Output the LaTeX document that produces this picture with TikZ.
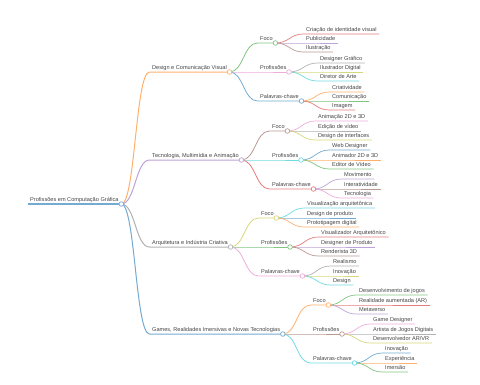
\documentclass[tikz,border=0pt]{standalone}
\usepackage{fontspec}
\setmainfont{Liberation Sans}
\usepackage{tikz}
\usetikzlibrary{positioning}
\definecolor{textMain}{HTML}{444444}
\definecolor{mBlue}{HTML}{74ABD2}
\definecolor{mOrange}{HTML}{FFB06C}
\definecolor{mGreen}{HTML}{80C580}
\definecolor{mRed}{HTML}{E67C7D}
\definecolor{mPurple}{HTML}{BDA3D7}
\definecolor{mBrown}{HTML}{BA9992}
\definecolor{mPink}{HTML}{EEACDA}
\definecolor{mGray}{HTML}{B2B2B2}
\definecolor{mOlive}{HTML}{D6D77A}
\definecolor{mCyan}{HTML}{72D8E2}

\begin{document}
\begin{tikzpicture}[x=1pt, y=-1pt,
    topic/.style={anchor=south west, inner xsep=2.5pt, inner ysep=0.7pt,
                  text height=4pt, text depth=1.2pt,
                  font=\fontsize{5.6}{6}\selectfont, text=textMain},
    link/.style={to path={.. controls +(14,0) and +(-14,0) .. (\tikztotarget)}},
    lvlOne/.style={line width=1pt},
    lvlTwo/.style={line width=0.8pt},
    leafline/.style={line width=0.7pt},
    knob/.style={fill=white, line width=0.7pt}]
  \useasboundingbox (0,0) rectangle (480,384);

  % root and main branches
  \node[topic] (root) at (27.5,204) {Profissões em Computação Gráfica};
  \node[topic] (design) at (149.5,72) {Design e Comunicação Visual};
  \node[topic] (tecno) at (149.5,160) {Tecnologia, Multimídia e Animação};
  \node[topic] (arq) at (149.5,247) {Arquitetura e Indústria Criativa};
  \node[topic] (games) at (149.5,334) {Games, Realidades Imersivas e Novas Tecnologias};

  \draw[mBlue, line width=1.2pt] (root.south west) -- (root.south east);
  \foreach \n/\k in {design/mOrange, tecno/mPurple, arq/mGray, games/mBlue}
    \draw[\k, lvlOne] (root.south east) to[link] (\n.south west) -- (\n.south east);

  % second level
  \node[topic] (dFoco) at (257.5,43) {Foco};
  \node[topic] (dProf) at (257.5,72) {Profissões};
  \node[topic] (dPal) at (257.5,101) {Palavras-chave};
  \node[topic] (tFoco) at (269.5,131) {Foco};
  \node[topic] (tProf) at (269.5,160) {Profissões};
  \node[topic] (tPal) at (269.5,189) {Palavras-chave};
  \node[topic] (aFoco) at (258.5,218) {Foco};
  \node[topic] (aProf) at (258.5,247) {Profissões};
  \node[topic] (aPal) at (258.5,276) {Palavras-chave};
  \node[topic] (gFoco) at (310.5,305) {Foco};
  \node[topic] (gProf) at (310.5,334) {Profissões};
  \node[topic] (gPal) at (310.5,363) {Palavras-chave};

  \foreach \p/\n/\k in {design/dFoco/mGreen, design/dProf/mPink, design/dPal/mBlue,
      tecno/tFoco/mBrown, tecno/tProf/mCyan, tecno/tPal/mRed,
      arq/aFoco/mOlive, arq/aProf/mGreen, arq/aPal/mPink,
      games/gFoco/mOrange, games/gProf/mBrown, games/gPal/mCyan}
    \draw[\k, lvlTwo] (\p.south east) to[link] (\n.south west) -- (\n.south east);

  % leaves
  \foreach \y/\k/\t [count=\i] in {34/mRed/Criação de identidade visual, 43/mPurple/Publicidade, 52/mBrown/Ilustração} {
    \node[topic] (dFoco\i) at (303.5,\y) {\t};
    \draw[\k, leafline] (dFoco.south east) to[link] (dFoco\i.south west) -- (dFoco\i.south east);
  }
  \foreach \y/\k/\t [count=\i] in {63/mGray/Designer Gráfico, 72/mOlive/Ilustrador Digital, 81/mCyan/Diretor de Arte} {
    \node[topic] (dProf\i) at (317.5,\y) {\t};
    \draw[\k, leafline] (dProf.south east) to[link] (dProf\i.south west) -- (dProf\i.south east);
  }
  \foreach \y/\k/\t [count=\i] in {92/mOrange/Criatividade, 101/mGreen/Comunicação, 110/mRed/Imagem} {
    \node[topic] (dPal\i) at (329.5,\y) {\t};
    \draw[\k, leafline] (dPal.south east) to[link] (dPal\i.south west) -- (dPal\i.south east);
  }
  \foreach \y/\k/\t [count=\i] in {121/mPink/Animação 2D e 3D, 131/mGray/Edição de vídeo, 140/mOlive/Design de interfaces} {
    \node[topic] (tFoco\i) at (315.5,\y) {\t};
    \draw[\k, leafline] (tFoco.south east) to[link] (tFoco\i.south west) -- (tFoco\i.south east);
  }
  \foreach \y/\k/\t [count=\i] in {150/mBlue/Web Designer, 160/mOrange/Animador 2D e 3D, 169/mGreen/Editor de Vídeo} {
    \node[topic] (tProf\i) at (329.5,\y) {\t};
    \draw[\k, leafline] (tProf.south east) to[link] (tProf\i.south west) -- (tProf\i.south east);
  }
  \foreach \y/\k/\t [count=\i] in {179/mPurple/Movimento, 189/mBrown/Interatividade, 198/mPink/Tecnologia} {
    \node[topic] (tPal\i) at (341.5,\y) {\t};
    \draw[\k, leafline] (tPal.south east) to[link] (tPal\i.south west) -- (tPal\i.south east);
  }
  \foreach \y/\k/\t [count=\i] in {208/mCyan/Visualização arquitetônica, 218/mBlue/Design de produto, 227/mOrange/Prototipagem digital} {
    \node[topic] (aFoco\i) at (304.5,\y) {\t};
    \draw[\k, leafline] (aFoco.south east) to[link] (aFoco\i.south west) -- (aFoco\i.south east);
  }
  \foreach \y/\k/\t [count=\i] in {237/mRed/Visualizador Arquitetônico, 247/mPurple/Designer de Produto, 256/mBrown/Renderista 3D} {
    \node[topic] (aProf\i) at (318.5,\y) {\t};
    \draw[\k, leafline] (aProf.south east) to[link] (aProf\i.south west) -- (aProf\i.south east);
  }
  \foreach \y/\k/\t [count=\i] in {266/mGray/Realismo, 276/mOlive/Inovação, 285/mCyan/Design} {
    \node[topic] (aPal\i) at (330.5,\y) {\t};
    \draw[\k, leafline] (aPal.south east) to[link] (aPal\i.south west) -- (aPal\i.south east);
  }
  \foreach \y/\k/\t [count=\i] in {295/mGreen/Desenvolvimento de jogos, 305/mRed/Realidade aumentada (AR), 314/mPurple/Metaverso} {
    \node[topic] (gFoco\i) at (356.5,\y) {\t};
    \draw[\k, leafline] (gFoco.south east) to[link] (gFoco\i.south west) -- (gFoco\i.south east);
  }
  \foreach \y/\k/\t [count=\i] in {324/mPink/Game Designer, 334/mGray/Artista de Jogos Digitais, 343/mOlive/{Desenvolvedor AR/VR}} {
    \node[topic] (gProf\i) at (370.5,\y) {\t};
    \draw[\k, leafline] (gProf.south east) to[link] (gProf\i.south west) -- (gProf\i.south east);
  }
  \foreach \y/\k/\t [count=\i] in {353/mBlue/Inovação, 363/mOrange/Experiência, 372/mGreen/Imersão} {
    \node[topic] (gPal\i) at (382.5,\y) {\t};
    \draw[\k, leafline] (gPal.south east) to[link] (gPal\i.south west) -- (gPal\i.south east);
  }

  % open circles at the end of each parent line
  \foreach \n/\k in {root/mBlue, design/mOrange, tecno/mPurple, arq/mGray, games/mBlue,
      dFoco/mGreen, dProf/mPink, dPal/mBlue, tFoco/mBrown, tProf/mCyan, tPal/mRed,
      aFoco/mOlive, aProf/mGreen, aPal/mPink, gFoco/mOrange, gProf/mBrown, gPal/mCyan}
    \draw[knob, draw=\k] (\n.south east) circle (2.3pt);
\end{tikzpicture}
\end{document}
